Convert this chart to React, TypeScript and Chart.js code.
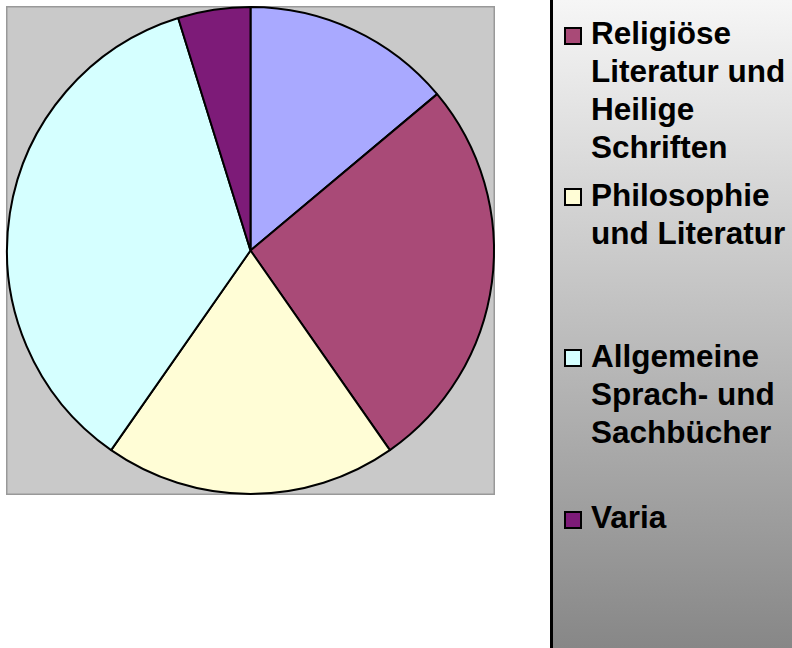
import React, { useEffect, useRef } from "react";
import { Chart, registerables } from "chart.js";

Chart.register(...registerables);

// Data (first slice's legend entry lies above the visible legend area)
const labels: string[] = [
  "",
  "Religiöse Literatur und Heilige Schriften",
  "Philosophie und Literatur",
  "Allgemeine Sprach- und Sachbücher",
  "Varia",
];
const values: number[] = [13.9, 26.4, 19.4, 35.5, 4.8];
const colors: string[] = ["#A9A9FF", "#A94A77", "#FFFDD6", "#D5FFFF", "#7D1B78"];

const plotBackground = {
  id: "plotBackground",
  beforeDraw(chart: any) {
    const { ctx, chartArea: a } = chart;
    ctx.save();
    ctx.fillStyle = "#C9C9C9";
    ctx.fillRect(a.left, a.top, a.right - a.left, a.bottom - a.top);
    ctx.strokeStyle = "#999999";
    ctx.lineWidth = 1.5;
    ctx.strokeRect(a.left + 0.75, a.top + 0.75, a.right - a.left - 1.5, a.bottom - a.top - 1.5);
    ctx.restore();
  },
};

const FONT = '"Liberation Sans", Arial, Helvetica, sans-serif';
const LEGEND_LEFT = 550;
const BORDER = 3;
const SLOT = 161.3;
const FIRST_VISIBLE_BASELINE = 44.3; // baseline of item index 1
const FONT_SIZE = 31.5;
const LINE_H = 38;
const BASELINE_IN_LINE = 29.9;

export default function App() {
  const ref = useRef<HTMLCanvasElement | null>(null);

  useEffect(() => {
    if (!ref.current) return;
    const chart = new Chart(ref.current, {
      type: "pie",
      data: {
        labels,
        datasets: [
          {
            data: values,
            backgroundColor: colors,
            borderColor: "#000000",
            borderWidth: 2,
          },
        ],
      },
      options: {
        responsive: false,
        maintainAspectRatio: false,
        animation: false,
        devicePixelRatio: 1,
        layout: { padding: { left: 6, top: 6, right: 55, bottom: 153 } },
        plugins: {
          legend: { display: false },
          tooltip: { enabled: false },
        },
      },
      plugins: [plotBackground],
    });
    return () => chart.destroy();
  }, []);

  return (
    <div
      style={{
        position: "fixed",
        left: 0,
        top: 0,
        width: 792,
        height: 648,
        background: "#ffffff",
        overflow: "hidden",
      }}
    >
      <canvas ref={ref} width={550} height={648} style={{ position: "absolute", left: 0, top: 0 }} />
      <div
        style={{
          position: "absolute",
          left: LEGEND_LEFT,
          top: 0,
          width: 792 - LEGEND_LEFT,
          height: 648,
          boxSizing: "border-box",
          borderLeft: `${BORDER}px solid #000`,
          background: "linear-gradient(to bottom, #f6f6f6, #878787)",
          overflow: "hidden",
          fontFamily: FONT,
          fontWeight: "bold",
          fontSize: FONT_SIZE,
          lineHeight: `${LINE_H}px`,
          color: "#000",
        }}
      >
        {labels.map((label, i) => {
          const baseline = FIRST_VISIBLE_BASELINE + (i - 1) * SLOT;
          const top = baseline - BASELINE_IN_LINE;
          return (
            <div key={i} style={{ position: "absolute", left: 0, top, width: 792 - LEGEND_LEFT - BORDER }}>
              <span
                style={{
                  position: "absolute",
                  left: 564 - LEGEND_LEFT - BORDER,
                  top: BASELINE_IN_LINE - 17.5,
                  width: 18,
                  height: 18,
                  boxSizing: "border-box",
                  border: "2px solid #000",
                  background: colors[i],
                }}
              />
              <div
                style={{
                  position: "absolute",
                  left: 591 - LEGEND_LEFT - BORDER,
                  top: 0,
                  width: 792 - 591,
                  whiteSpace: "normal",
                }}
              >
                {label}
              </div>
            </div>
          );
        })}
      </div>
    </div>
  );
}
